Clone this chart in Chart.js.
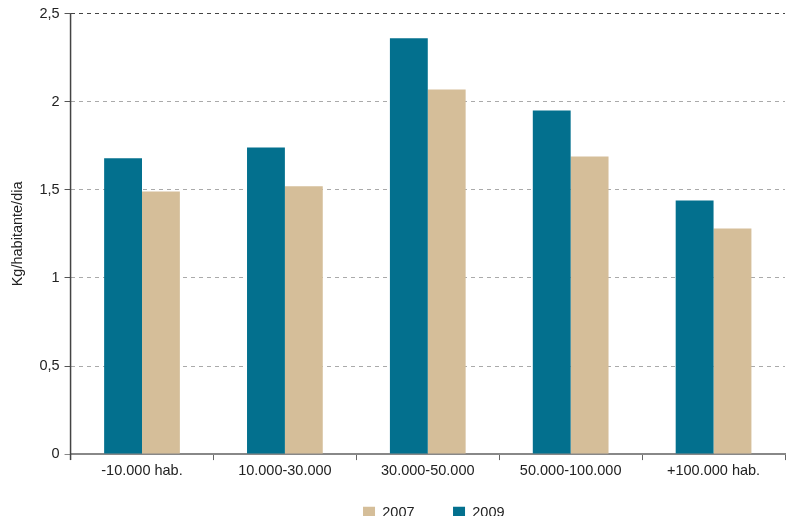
<!DOCTYPE html>
<html>
<head>
<meta charset="utf-8">
<script src="https://cdn.jsdelivr.net/npm/chart.js@4"></script>
<style>
  html, body { margin: 0; padding: 0; background: #fff; }
  #wrap { width: 786px; height: 516px; }
</style>
</head>
<body>
<div id="wrap"><canvas id="chart"></canvas></div>
<script>
const categories = ["-10.000 hab.", "10.000-30.000", "30.000-50.000", "50.000-100.000", "+100.000 hab."];
const values2009 = [1.68, 1.74, 2.36, 1.95, 1.44];
const values2007 = [1.49, 1.52, 2.07, 1.69, 1.28];

Chart.defaults.font.family = "'Liberation Sans', Arial, sans-serif";
Chart.defaults.font.size = 14.5;
Chart.defaults.color = "#333";

// eixo y sólido (o border.dash também tracejava a linha do eixo)
const yAxisLine = {
    id: "yAxisLine",
    afterLayout(chart) {
        // legenda um pouco à direita, como no original
        chart.legend.left += 6;
        chart.legend.right += 6;
    },
    afterDatasetsDraw(chart) {
        const { ctx, chartArea, scales } = chart;
        const x = scales.y.right;
        ctx.save();
        ctx.setLineDash([]);
        ctx.strokeStyle = "#444";
        ctx.lineWidth = 1.5;
        ctx.beginPath();
        ctx.moveTo(x, chartArea.top);
        ctx.lineTo(x, chartArea.bottom + 6);
        ctx.stroke();
        ctx.restore();
    }
};

new Chart(document.getElementById("chart"), {
    type: "bar",
    data: {
        labels: categories,
        datasets: [
            { label: "2009", data: values2009, backgroundColor: "#03708e" },
            { label: "2007", data: values2007, backgroundColor: "#d5be99" }
        ]
    },
    plugins: [yAxisLine],
    options: {
        responsive: true,
        maintainAspectRatio: false,
        animation: false,
        layout: { padding: { top: 7, right: 1, left: 5, bottom: -14 } },
        datasets: { bar: { categoryPercentage: 0.53, barPercentage: 1 } },
        plugins: {
            legend: {
                position: "bottom",
                reverse: true,
                fullSize: false,
                labels: {
                    boxWidth: 12,
                    boxHeight: 12,
                    padding: 24,
                    color: "#222",
                    generateLabels(chart) {
                        const items = Chart.defaults.plugins.legend.labels.generateLabels(chart);
                        items.forEach(it => { if (it.text === "2007") it.text = "2007\u2002\u2002"; });
                        return items;
                    }
                }
            },
            tooltip: { enabled: false }
        },
        scales: {
            x: {
                offset: true,
                grid: { offset: true, drawOnChartArea: false, tickLength: 6, color: "#666" },
                border: { color: "#888", width: 2 },
                ticks: { padding: 2, color: "#222" }
            },
            y: {
                min: 0,
                max: 2.5,
                ticks: {
                    stepSize: 0.5,
                    padding: 5,
                    color: "#222",
                    callback: v => String(v).replace(".", ",")
                },
                grid: {
                    color: ctx => ctx.tick && ctx.tick.value === 2.5 ? "#444" : "#aaa",
                    tickColor: ctx => ctx.tick && ctx.tick.value === 0 ? "#888" : "#555",
                    tickLength: 6,
                    tickBorderDash: [0, 0]
                },
                border: { display: false, dash: [4, 4] },
                title: { display: true, text: "Kg/habitante/dia", color: "#222", padding: { bottom: 8 } }
            }
        }
    }
});
</script>
</body>
</html>
